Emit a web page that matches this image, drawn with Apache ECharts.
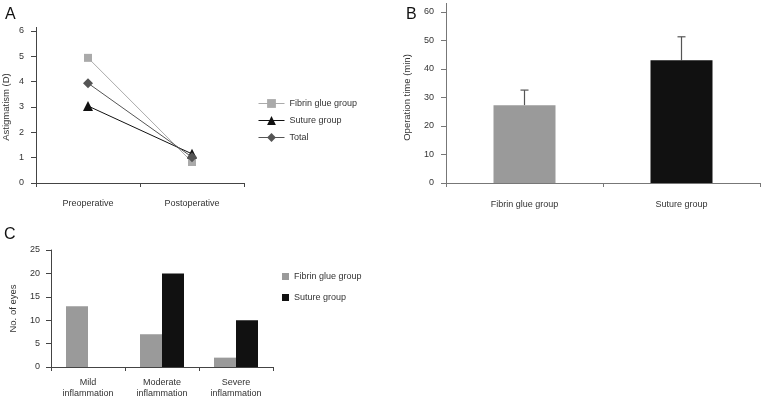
<!DOCTYPE html>
<html><head><meta charset="utf-8">
<script src="https://cdn.jsdelivr.net/npm/echarts@6/dist/echarts.min.js"></script>
<style>html,body{margin:0;padding:0;background:#fff}#c{width:767px;height:402px}</style>
</head><body><div id="c"></div>
<script>
// Panel A
var timeCats = ['Preoperative', 'Postoperative'];
var fibrinAstig = [4.94, 0.83];
var sutureAstig = [3.04, 1.15];
var totalAstig = [3.94, 1.02];
// Panel B
var groupCats = ['Fibrin glue group', 'Suture group'];
var opTime = [27.3, 43.1];
var opTimeUpper = [32.6, 51.3];
// Panel C
var inflCats = ['Mild\ninflammation', 'Moderate\ninflammation', 'Severe\ninflammation'];
var fibrinEyes = [13, 7, 2];
var sutureEyes = [0, 20, 10];

var FONT = '"Liberation Sans", Arial, sans-serif';
var FS = 9;
var txt = '#333';
var chart = echarts.init(document.getElementById('c'));
function yAx(grid, max, interval, name, gap, lineColor, margin) {
  return {
    type: 'value', gridIndex: grid, min: 0, max: max, interval: interval,
    name: name, nameLocation: 'middle', nameGap: gap,
    nameTextStyle: {fontFamily: FONT, fontSize: 9.5, color: txt},
    axisLine: {show: true, lineStyle: {color: lineColor, width: 1}},
    axisTick: {show: true, length: 5, lineStyle: {color: lineColor}},
    axisLabel: {fontFamily: FONT, fontSize: FS, color: txt, margin: margin},
    splitLine: {show: false}
  };
}
function xAx(grid, data, lineColor, margin) {
  return {
    type: 'category', gridIndex: grid, data: data,
    axisLine: {lineStyle: {color: lineColor, width: 1}},
    axisTick: {show: true, length: 4, lineStyle: {color: lineColor}},
    axisLabel: {fontFamily: FONT, fontSize: FS, color: txt, margin: margin, lineHeight: 11},
    splitLine: {show: false}
  };
}
chart.setOption({
  animation: false,
  textStyle: {fontFamily: FONT},
  grid: [
    {left: 36, top: 31, width: 208, height: 152},
    {left: 446, top: 12, width: 314, height: 171},
    {left: 51, top: 250, width: 222, height: 117}
  ],
  xAxis: [
    xAx(0, timeCats, '#444', 15),
    xAx(1, groupCats, '#777', 16),
    xAx(2, inflCats, '#444', 10)
  ],
  yAxis: [
    yAx(0, 6, 1, 'Astigmatism (D)', 25, '#444', 12),
    yAx(1, 60, 10, 'Operation time (min)', 34, '#777', 12),
    yAx(2, 25, 5, 'No. of eyes', 33, '#444', 11)
  ],
  legend: [
    {orient: 'vertical', left: 253, top: 94, itemWidth: 26, itemHeight: 11, itemGap: 8,
     lineStyle: {width: 1},
     textStyle: {fontFamily: FONT, fontSize: FS, color: txt},
     data: ['Fibrin glue group', 'Suture group', 'Total']},
    {orient: 'vertical', left: 277, top: 267, itemWidth: 7, itemHeight: 7, itemGap: 12,
     textStyle: {fontFamily: FONT, fontSize: FS, color: txt},
     data: [{name: 'Fibrin glue group ', icon: 'rect'}, {name: 'Suture group ', icon: 'rect'}]}
  ],
  graphic: [
    {type: 'text', left: 5, top: 7, style: {text: 'A', font: '16px "Liberation Sans"', fill: '#111'}},
    {type: 'text', left: 406, top: 7, style: {text: 'B', font: '16px "Liberation Sans"', fill: '#111'}},
    {type: 'text', left: 4, top: 227, style: {text: 'C', font: '16px "Liberation Sans"', fill: '#111'}},
    {type: 'line', shape: {x1: 36.5, y1: 27, x2: 36.5, y2: 31}, style: {stroke: '#444', lineWidth: 1}},
    {type: 'line', shape: {x1: 446.5, y1: 3, x2: 446.5, y2: 12}, style: {stroke: '#777', lineWidth: 1}}
  ],
  series: [
    {type: 'line', name: 'Fibrin glue group', xAxisIndex: 0, yAxisIndex: 0, data: fibrinAstig,
     symbol: 'rect', symbolSize: 8, itemStyle: {color: '#aaa'}, lineStyle: {color: '#aaa', width: 1}, z: 3},
    {type: 'line', name: 'Suture group', xAxisIndex: 0, yAxisIndex: 0, data: sutureAstig,
     symbol: 'triangle', symbolSize: 10, itemStyle: {color: '#111'}, lineStyle: {color: '#111', width: 1}, z: 4},
    {type: 'line', name: 'Total', xAxisIndex: 0, yAxisIndex: 0, data: totalAstig,
     symbol: 'diamond', symbolSize: 10, itemStyle: {color: '#555'}, lineStyle: {color: '#555', width: 1}, z: 5},
    {type: 'bar', xAxisIndex: 1, yAxisIndex: 1, barWidth: 62,
     data: [{value: opTime[0], itemStyle: {color: '#9a9a9a'}}, {value: opTime[1], itemStyle: {color: '#111'}}]},
    {type: 'custom', xAxisIndex: 1, yAxisIndex: 1, z: 1,
     data: opTime.map(function (v, i) { return [i, v, opTimeUpper[i]]; }),
     renderItem: function (params, api) {
       var b = api.coord([api.value(0), api.value(1)]);
       var t = api.coord([api.value(0), api.value(2)]);
       var st = {stroke: '#555', lineWidth: 1.2};
       return {type: 'group', children: [
         {type: 'line', shape: {x1: b[0], y1: b[1], x2: t[0], y2: t[1]}, style: st},
         {type: 'line', shape: {x1: t[0] - 4, y1: t[1], x2: t[0] + 4, y2: t[1]}, style: st}
       ]};
     }},
    {type: 'bar', name: 'Fibrin glue group ', xAxisIndex: 2, yAxisIndex: 2, data: fibrinEyes,
     barWidth: 22, barGap: '0%', itemStyle: {color: '#9a9a9a'}},
    {type: 'bar', name: 'Suture group ', xAxisIndex: 2, yAxisIndex: 2, data: sutureEyes,
     barWidth: 22, barGap: '0%', itemStyle: {color: '#111'}}
  ]
});
</script></body></html>
